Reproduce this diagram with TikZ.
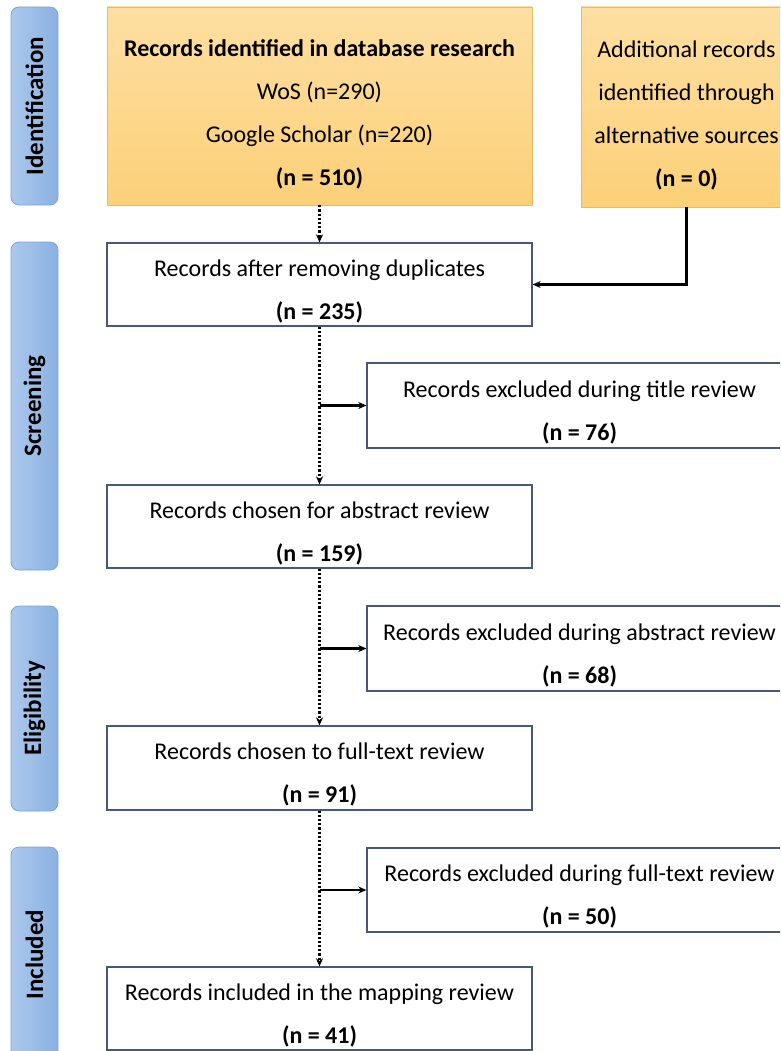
\documentclass[tikz,border=0pt]{standalone}
\usepackage{fontspec}
\setmainfont{Carlito}
\usetikzlibrary{arrows.meta}

\definecolor{barleft}{RGB}{172,200,236}
\definecolor{barright}{RGB}{138,177,226}
\definecolor{barline}{RGB}{122,165,220}
\definecolor{idtop}{RGB}{254,223,162}
\definecolor{idbot}{RGB}{252,208,120}
\definecolor{boxline}{RGB}{72,88,118}

% extra room above the first line
\newcommand{\toproom}[1]{\rule{0pt}{#1}}

\tikzset{
  stage/.style={rectangle, rounded corners=8pt, draw=barline, line width=0.8pt,
    left color=barleft, right color=barright, minimum width=47pt,
    font=\fontsize{25}{28}\selectfont\bfseries},
  idbox/.style={rectangle, draw=idbot!90!black, line width=0.4pt,
    top color=idtop, bottom color=idbot, minimum width=#1, align=center,
    inner sep=0pt, font=\fontsize{24}{43}\selectfont},
  recbox/.style={rectangle, draw=boxline, line width=1.3pt, fill=white,
    minimum width=425pt, align=center, inner sep=0pt,
    font=\fontsize{24}{43}\selectfont},
  flow/.style={line width=2.2pt, dotted, -{Stealth[length=8pt,width=7pt]}},
  branch/.style={line width=2.2pt, -{Stealth[length=8pt,width=7pt]}}
}

\begin{document}
\begin{tikzpicture}[x=1pt,y=-1pt]
  \useasboundingbox (0,0) rectangle (780,1051);
  \clip (0,0) rectangle (780,1051);

  % Stages
  \node[stage, minimum height=198pt] (sid) at (34.5,106) {\rotatebox{90}{Identification}};
  \node[stage, minimum height=328pt] (sscr) at (34.5,406) {\rotatebox{90}{Screening}};
  \node[stage, minimum height=205pt] (selig) at (34.5,708.5) {\rotatebox{90}{Eligibility}};
  \node[stage, minimum height=215pt] (sincl) at (34.5,954.5) {\rotatebox{90}{Included}};

  % Identification
  \node[idbox=425pt, minimum height=198pt] (id) at (319.5,106)
    {\toproom{34pt}\textbf{Records identified in database research}\\WoS (n=290)\\Google Scholar (n=220)\\\textbf{(n = 510)}};
  \node[idbox=211pt, minimum height=200pt] (add) at (686.5,107)
    {\toproom{34pt}Additional records\\identified through\\alternative sources\\\textbf{(n = 0)}};

  % Records
  \node[recbox, minimum height=83pt] (dup) at (319.5,284.5)
    {\toproom{30pt}Records after removing duplicates\\\textbf{(n = 235)}};
  \node[recbox, minimum height=85pt] (extitle) at (579.5,405.5)
    {\toproom{30pt}Records excluded during title review\\\textbf{(n = 76)}};
  \node[recbox, minimum height=83pt] (abs) at (319.5,526.5)
    {\toproom{30pt}Records chosen for abstract review\\\textbf{(n = 159)}};
  \node[recbox, minimum height=85pt] (exabs) at (579.5,648.5)
    {\toproom{30pt}Records excluded during abstract review\\\textbf{(n = 68)}};
  \node[recbox, minimum height=84pt] (full) at (319.5,768)
    {\toproom{30pt}Records chosen to full-text review\\\textbf{(n = 91)}};
  \node[recbox, minimum height=84pt] (exfull) at (579.5,890)
    {\toproom{30pt}Records excluded during full-text review\\\textbf{(n = 50)}};
  \node[recbox, minimum height=83pt] (incl) at (319.5,1008.5)
    {\toproom{30pt}Records included in the mapping review\\\textbf{(n = 41)}};

  % Flow
  \draw[flow] (id) -- (dup);
  \draw[branch] (add.south) |- (dup.east);
  \draw[flow] (dup) -- (abs);
  \draw[flow] (abs) -- (full);
  \draw[flow] (full) -- (incl);

  % Exclusions
  \draw[branch] (dup.south |- extitle.west) -- (extitle.west);
  \draw[branch] (abs.south |- exabs.west) -- (exabs.west);
  \draw[branch] (full.south |- exfull.west) -- (exfull.west);
\end{tikzpicture}
\end{document}
